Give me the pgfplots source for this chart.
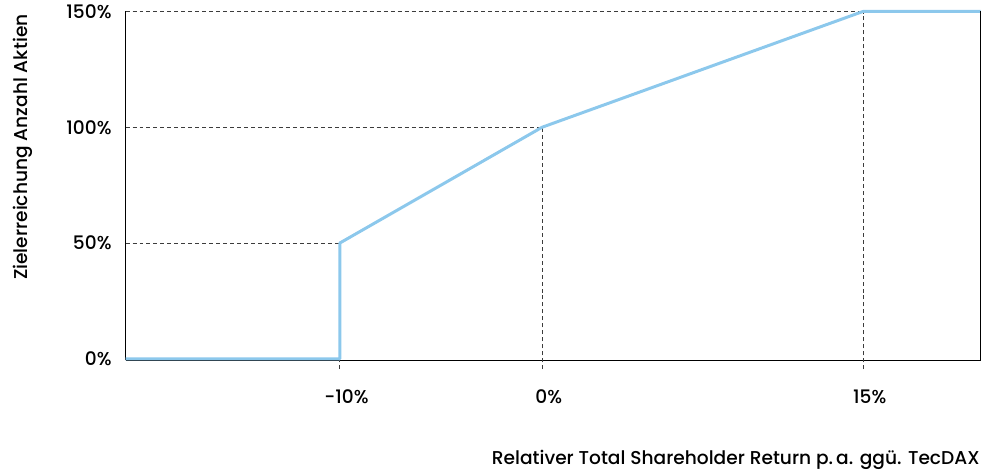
\documentclass[border=0pt]{standalone}
\usepackage{pgfplots}
\pgfplotsset{compat=1.18}
\usepackage{fontspec}
\setmainfont{Poppins}[UprightFont=* Medium]
\definecolor{lineblue}{RGB}{140,200,236}
\definecolor{guidegray}{RGB}{60,60,60}
\begin{document}
\begin{tikzpicture}
  \begin{axis}[
      scale only axis,
      width=643.5pt, height=262.5pt,
      xmin=-19.47, xmax=20.49,
      ymin=-0.6, ymax=150,
      clip=false,
      axis x line=bottom, axis y line=left,
      axis line style={-, black, line width=0.8pt},
      xtick={-9.455,0,15},
      xticklabels={-10\%,0\%,15\%},
      ytick={0,50,100,150},
      yticklabels={0\%,50\%,100\%,150\%},
      major tick length=0pt,
      tick label style={font=\fontsize{14}{16}\selectfont},
      xticklabel style={yshift=-19pt, xshift=5pt},
      yticklabel style={xshift=-7pt},
      xlabel={Relativer Total Shareholder Return p.\,a. ggü. TecDAX},
      ylabel={Zielerreichung Anzahl Aktien},
      every axis x label/.style={at={(axis description cs:1,-0.2857)}, anchor=east,
        inner sep=0.5pt, font=\fontsize{14}{16}\selectfont},
      every axis y label/.style={at={(axis description cs:-0.12,0.611)}, rotate=90, anchor=center,
        inner ysep=10pt, font=\fontsize{14}{16}\selectfont},
      guideline/.style={guidegray, line width=0.75pt, dash pattern=on 3pt off 2.25pt},
    ]
    % guide lines
    \addplot[guideline] coordinates {(-19.47,50) (-9.455,50)};
    \addplot[guideline] coordinates {(-19.47,100) (0,100)};
    \addplot[guideline] coordinates {(-19.47,150) (15,150)};
    \addplot[guideline] coordinates {(-9.455,-4.5) (-9.455,50)};
    \addplot[guideline] coordinates {(0,-4.5) (0,100)};
    \addplot[guideline] coordinates {(15,-4.5) (15,150)};
    % payout curve
    \addplot[lineblue, line width=2.25pt, line join=round] coordinates {
      (-19.47,0)
      (-9.455,0)
      (-9.455,50)
      (0,100)
      (15,150)
      (20.49,150)
    };
    \draw[black, line width=0.8pt] (rel axis cs:1,0) -- (rel axis cs:1,1);
    % keep the bottom margin of the reference
    \path (rel axis cs:0.5,-0.317);
  \end{axis}
\end{tikzpicture}
\end{document}
